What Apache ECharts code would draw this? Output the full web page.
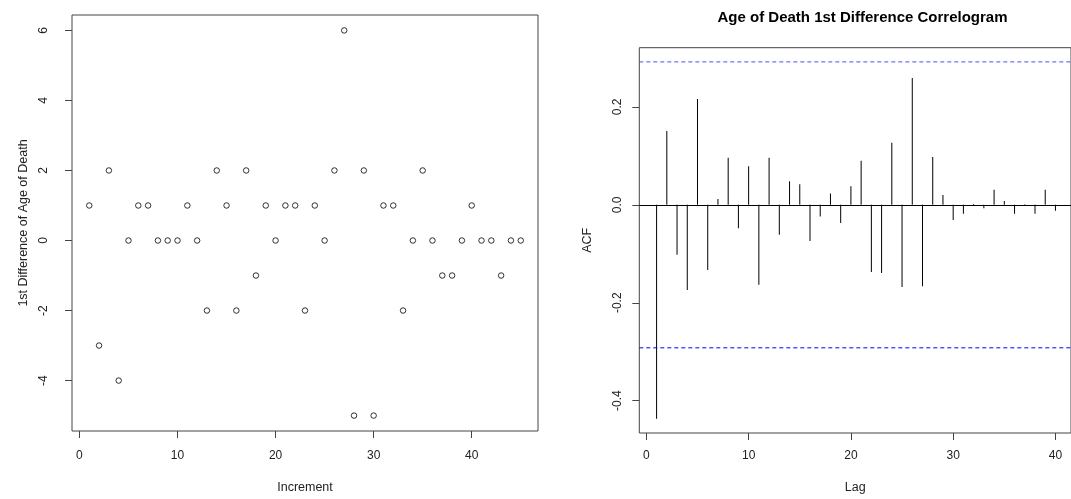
<!DOCTYPE html>
<html>
<head>
<meta charset="utf-8">
<script src="https://cdn.jsdelivr.net/npm/echarts@6/dist/echarts.min.js"></script>
<style>
html,body{margin:0;padding:0;background:#fff;}
#chart{width:1071px;height:499px;}
</style>
</head>
<body>
<div id="chart"></div>
<script>
// ---- data ----
var increments = [1,2,3,4,5,6,7,8,9,10,11,12,13,14,15,16,17,18,19,20,21,22,23,24,25,26,27,28,29,30,31,32,33,34,35,36,37,38,39,40,41,42,43,44,45];
var diffValues = [1,-3,2,-4,0,1,1,0,0,0,1,0,-2,2,1,-2,2,-1,1,0,1,1,-2,1,0,2,6,-5,2,-5,1,1,-2,0,2,0,-1,-1,0,1,0,0,-1,0,0];
var lags = [1,2,3,4,5,6,7,8,9,10,11,12,13,14,15,16,17,18,19,20,21,22,23,24,25,26,27,28,29,30,31,32,33,34,35,36,37,38,39,40];
var acfValues = [-0.437,0.151,-0.102,-0.174,0.216,-0.133,0.012,0.096,-0.048,0.079,
                 -0.163,0.096,-0.061,0.048,0.042,-0.074,-0.024,0.023,-0.037,0.038,
                 0.090,-0.137,-0.139,0.127,-0.168,0.259,-0.166,0.098,0.020,-0.031,
                 -0.018,0.002,-0.007,0.031,0.008,-0.018,0.001,-0.018,0.031,-0.012];
var ciBound = 0.292;
var leftXTicks = [0,10,20,30,40];
var leftYTicks = [-4,-2,0,2,4,6];
var rightXTicks = [0,10,20,30,40];
var rightYTicks = [-0.4,-0.2,0.0,0.2];

var lagMin = -0.69, lagMax = 41.52;

var FONT = '"Liberation Sans", Arial, sans-serif';
var TXT = '#222';

var chart = echarts.init(document.getElementById('chart'), null, {renderer:'canvas'});

function xAxisCfg(grid, min, max, ticks, name, gap, margin){
  return {
    type:'value', gridIndex:grid, min:min, max:max,
    name:name, nameLocation:'middle', nameGap:gap,
    nameTextStyle:{fontFamily:FONT, fontSize:12.5, color:TXT},
    axisLine:{show:false, onZero:false},
    axisTick:{show:true, inside:false, length:7, customValues:ticks, lineStyle:{color:'#444'}},
    axisLabel:{show:true, customValues:ticks, margin:margin, fontFamily:FONT, fontSize:12, color:TXT},
    splitLine:{show:false}
  };
}
function yAxisCfg(grid, min, max, ticks, name, gap, margin, fmt){
  return {
    type:'value', gridIndex:grid, min:min, max:max,
    name:name, nameLocation:'middle', nameGap:gap, nameRotate:90,
    nameTextStyle:{fontFamily:FONT, fontSize:12.5, color:TXT},
    axisLine:{show:false, onZero:false},
    axisTick:{show:true, inside:false, length:7, customValues:ticks, lineStyle:{color:'#444'}},
    axisLabel:{show:true, customValues:ticks, rotate:90, margin:margin, fontFamily:FONT, fontSize:12, color:TXT,
               formatter: fmt},
    splitLine:{show:false}
  };
}

var scatterData = increments.map(function(x,i){ return [x, diffValues[i]]; });
var acfData = lags.map(function(x,i){ return [x, acfValues[i]]; });

function ciLine(val, color){
  return {
    type:'line', xAxisIndex:1, yAxisIndex:1,
    data:[[lagMin, val],[lagMax, val]],
    showSymbol:false, symbol:'none', silent:true,
    lineStyle:{color:color, width:1, type:[4,3]},
    itemStyle:{color:color},
    emphasis:{disabled:true}, z:3
  };
}

chart.setOption({
  animation:false,
  backgroundColor:'#fff',
  title:{
    text:'Age of Death 1st Difference Correlogram',
    left:857.5, top:5, textAlign:'center',
    textStyle:{fontFamily:FONT, fontSize:15, fontWeight:'bold', color:'#000'}
  },
  grid:[
    {left:72, top:15, width:466, height:417, show:true, borderColor:'#444', borderWidth:1, backgroundColor:'transparent'},
    {left:639.3, top:47.7, width:436.4, height:389.6, show:true, borderColor:'#444', borderWidth:1, backgroundColor:'transparent'}
  ],
  xAxis:[
    xAxisCfg(0, -0.76, 46.76, leftXTicks, 'Increment', 50, 19),
    xAxisCfg(1, lagMin, lagMax, rightXTicks, 'Lag', 48, 17)
  ],
  yAxis:[
    yAxisCfg(0, -5.44, 6.44, leftYTicks, '1st Difference of Age of Death', 42, 22, function(v){ return String(v); }),
    yAxisCfg(1, -0.466, 0.321, rightYTicks, 'ACF', 45, 16, function(v){ return (Math.round(v*10)/10).toFixed(1); })
  ],
  series:[
    {
      type:'scatter', xAxisIndex:0, yAxisIndex:0, data:scatterData,
      symbol:'circle', symbolSize:5.5,
      itemStyle:{color:'#fff', borderColor:'#000', borderWidth:1},
      emphasis:{disabled:true}
    },
    {
      type:'bar', xAxisIndex:1, yAxisIndex:1, data:acfData,
      barWidth:1, itemStyle:{color:'#000'},
      emphasis:{disabled:true},
      markLine:{
        silent:true, symbol:'none', label:{show:false},
        lineStyle:{color:'#000', width:1, type:'solid'},
        data:[{yAxis:0}]
      }
    },
    ciLine(ciBound, '#4d4dff'),
    ciLine(-ciBound, '#0000ff')
  ]
});
</script>
</body>
</html>
